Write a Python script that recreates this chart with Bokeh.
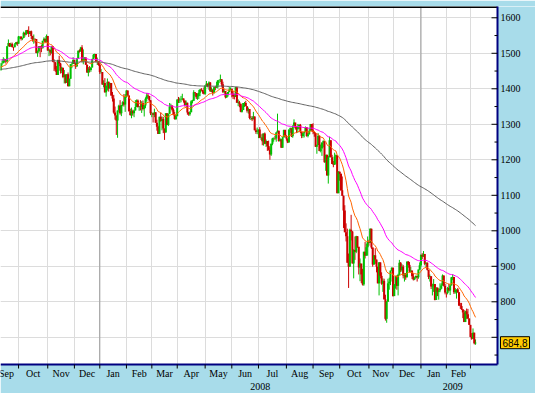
import pandas as pd
from bokeh.plotting import figure
from bokeh.models import (Range1d, FixedTicker, Grid, Span, Label, LabelSet,
                          BoxAnnotation, ColumnDataSource)
from bokeh.embed import file_html
from bokeh.resources import INLINE

# ---------------- data (daily index values, Sep 10 2007 .. Mar 6 2009) ----------------
first_open = 1454

closes = [
    1452, 1471, 1472, 1484, 1484, 1477, 1520, 1529, 1519, 1526, 1518, 1517, 1525, 1531, 1527,
    1547, 1547, 1540, 1543, 1558, 1553, 1565, 1562, 1554, 1562, 1549, 1539, 1541, 1540, 1501, 1506, 1520, 1516, 1514, 1535, 1541, 1531, 1549,
    1508, 1510, 1502, 1520, 1476, 1475, 1454, 1439, 1481, 1471, 1451, 1459, 1433, 1440, 1417, 1441, 1407, 1428, 1469, 1470, 1481,
    1472, 1463, 1485, 1507, 1505, 1516, 1478, 1487, 1488, 1468, 1446, 1455, 1453, 1460, 1484, 1496, 1498, 1476, 1478, 1468,
    1447, 1447, 1412, 1416, 1390, 1409, 1420, 1401, 1416, 1381, 1373, 1333, 1325, 1311, 1339, 1352, 1331, 1354, 1362, 1356, 1379,
    1395, 1381, 1337, 1326, 1337, 1331, 1339, 1349, 1367, 1349, 1350, 1349, 1360, 1343, 1353, 1372, 1381, 1380, 1368, 1331,
    1331, 1327, 1334, 1304, 1293, 1273, 1321, 1309, 1315, 1288, 1277, 1331, 1298, 1330, 1350, 1353, 1341, 1326, 1315, 1323,
    1370, 1368, 1369, 1370, 1373, 1366, 1354, 1361, 1333, 1328, 1334, 1365, 1366, 1390, 1388, 1376, 1380, 1389, 1398, 1396, 1391, 1386,
    1409, 1414, 1407, 1418, 1393, 1398, 1388, 1404, 1403, 1409, 1424, 1425, 1427, 1413, 1391, 1394, 1376, 1385, 1391, 1398, 1400,
    1386, 1378, 1377, 1404, 1361, 1362, 1358, 1335, 1340, 1360, 1360, 1351, 1338, 1343, 1318, 1318, 1314, 1322, 1283, 1278, 1280,
    1285, 1262, 1263, 1252, 1274, 1245, 1253, 1239, 1228, 1215, 1245, 1260, 1261, 1260, 1277, 1282, 1253, 1258, 1234, 1263, 1284, 1267,
    1260, 1249, 1285, 1289, 1266, 1296, 1305, 1290, 1286, 1293, 1298, 1279, 1267, 1275, 1278, 1292, 1267, 1272, 1282, 1301, 1283,
    1278, 1275, 1237, 1242, 1268, 1225, 1232, 1249, 1252, 1193, 1214, 1156, 1207, 1255, 1207, 1188, 1186, 1209, 1213, 1106, 1166,
    1161, 1114, 1099, 1057, 996, 985, 910, 899, 1003, 998, 908, 946, 941, 985, 955, 897, 908, 877, 849, 941, 930, 954, 969,
    966, 1006, 953, 905, 931, 919, 899, 852, 911, 873, 851, 859, 807, 752, 800, 852, 857, 888, 896,
    816, 849, 871, 845, 876, 910, 889, 899, 874, 880, 869, 913, 904, 885, 888, 872, 863, 868, 873, 869, 891, 903,
    932, 927, 935, 907, 910, 890, 870, 872, 843, 844, 850, 805, 840, 828, 832, 837, 846, 874, 845, 826,
    825, 839, 832, 846, 869, 870, 827, 834, 835, 827, 789, 788, 779, 770, 743, 773, 765, 753, 735,
    701, 696, 713, 683, 684.8,
]

highs = [
    1462, 1473, 1479, 1489, 1485, 1484, 1520, 1539, 1529, 1530, 1530, 1518, 1529, 1532, 1533,
    1549, 1548, 1547, 1544, 1561, 1558, 1565, 1566, 1576, 1563, 1564, 1549, 1553, 1541, 1540, 1508, 1520, 1520, 1524, 1535, 1545, 1541, 1553,
    1549, 1513, 1510, 1521, 1520, 1483, 1475, 1464, 1482, 1493, 1473, 1462, 1459, 1453, 1440, 1441, 1446, 1429, 1470, 1474, 1489,
    1482, 1472, 1487, 1508, 1511, 1518, 1523, 1511, 1489, 1488, 1468, 1461, 1464, 1461, 1485, 1498, 1499, 1498, 1488, 1478,
    1471, 1456, 1447, 1424, 1430, 1409, 1429, 1420, 1417, 1416, 1391, 1383, 1350, 1325, 1339, 1355, 1368, 1354, 1365, 1385, 1385,
    1396, 1395, 1381, 1344, 1347, 1341, 1341, 1368, 1370, 1370, 1350, 1368, 1365, 1367, 1354, 1376, 1388, 1388, 1380, 1368,
    1335, 1332, 1344, 1334, 1313, 1296, 1321, 1333, 1322, 1321, 1288, 1331, 1331, 1330, 1360, 1358, 1353, 1345, 1335, 1328,
    1370, 1377, 1375, 1380, 1386, 1373, 1368, 1367, 1361, 1335, 1337, 1368, 1369, 1396, 1390, 1388, 1387, 1397, 1399, 1402, 1397, 1404,
    1410, 1422, 1415, 1421, 1419, 1404, 1398, 1405, 1407, 1420, 1424, 1426, 1440, 1427, 1420, 1399, 1394, 1388, 1391, 1405, 1404,
    1400, 1394, 1386, 1405, 1404, 1370, 1366, 1358, 1353, 1360, 1363, 1366, 1351, 1347, 1343, 1323, 1323, 1335, 1322, 1288, 1291,
    1285, 1292, 1272, 1274, 1274, 1277, 1257, 1253, 1254, 1235, 1246, 1262, 1263, 1268, 1278, 1330, 1282, 1262, 1258, 1264, 1285, 1285,
    1270, 1260, 1285, 1291, 1289, 1297, 1314, 1304, 1294, 1301, 1301, 1301, 1279, 1277, 1279, 1294, 1292, 1276, 1289, 1301, 1301,
    1303, 1280, 1275, 1243, 1275, 1268, 1243, 1249, 1255, 1252, 1214, 1214, 1211, 1265, 1255, 1214, 1197, 1220, 1215, 1213, 1168,
    1167, 1161, 1153, 1099, 1072, 1021, 1006, 936, 1006, 1045, 999, 948, 984, 986, 985, 955, 922, 896, 893, 941, 969, 964, 984,
    975, 1007, 1006, 953, 931, 951, 919, 899, 912, 911, 883, 866, 865, 820, 802, 865, 868, 888, 897,
    896, 850, 873, 875, 879, 918, 912, 906, 904, 880, 880, 914, 915, 912, 898, 888, 880, 869, 874, 873, 891, 911,
    934, 937, 943, 935, 911, 911, 890, 877, 872, 851, 864, 850, 841, 840, 838, 852, 852, 877, 874, 851,
    826, 842, 851, 850, 870, 878, 869, 839, 835, 839, 827, 797, 797, 779, 777, 775, 781, 780, 753,
    735, 712, 725, 713, 694,
]

lows = [
    1439, 1451, 1465, 1472, 1474, 1471, 1476, 1520, 1518, 1519, 1516, 1507, 1517, 1525, 1521,
    1527, 1541, 1536, 1537, 1543, 1547, 1551, 1555, 1546, 1554, 1540, 1533, 1527, 1530, 1500, 1490, 1503, 1489, 1503, 1514, 1535, 1530, 1531,
    1507, 1492, 1494, 1499, 1475, 1450, 1448, 1439, 1439, 1464, 1443, 1444, 1430, 1415, 1415, 1417, 1407, 1407, 1428, 1458, 1470,
    1470, 1456, 1463, 1485, 1502, 1505, 1475, 1469, 1477, 1467, 1445, 1435, 1446, 1448, 1460, 1484, 1488, 1475, 1467, 1465,
    1442, 1443, 1411, 1404, 1389, 1378, 1395, 1392, 1401, 1380, 1364, 1330, 1313, 1270, 1262, 1334, 1327, 1323, 1351, 1350, 1335,
    1375, 1379, 1336, 1324, 1317, 1324, 1320, 1339, 1349, 1347, 1338, 1339, 1332, 1339, 1322, 1346, 1364, 1372, 1364, 1326,
    1320, 1305, 1320, 1304, 1282, 1273, 1273, 1307, 1283, 1275, 1256, 1277, 1298, 1295, 1330, 1344, 1336, 1325, 1313, 1312,
    1323, 1360, 1360, 1362, 1369, 1361, 1350, 1350, 1327, 1324, 1324, 1334, 1359, 1366, 1380, 1371, 1369, 1371, 1379, 1394, 1386, 1384,
    1383, 1406, 1404, 1397, 1391, 1391, 1381, 1386, 1396, 1403, 1401, 1416, 1419, 1406, 1388, 1387, 1373, 1374, 1378, 1390, 1396,
    1376, 1371, 1370, 1377, 1360, 1351, 1348, 1334, 1333, 1340, 1349, 1351, 1333, 1330, 1314, 1312, 1309, 1314, 1283, 1273, 1272,
    1261, 1261, 1256, 1241, 1240, 1244, 1236, 1225, 1226, 1200, 1211, 1241, 1251, 1256, 1251, 1277, 1251, 1251, 1234, 1234, 1263, 1266,
    1254, 1247, 1249, 1276, 1264, 1262, 1296, 1285, 1275, 1276, 1287, 1275, 1261, 1262, 1263, 1278, 1265, 1263, 1271, 1282, 1280,
    1272, 1265, 1236, 1217, 1242, 1224, 1221, 1211, 1235, 1192, 1169, 1156, 1133, 1207, 1207, 1188, 1179, 1186, 1188, 1106, 1106,
    1141, 1112, 1098, 1008, 996, 970, 910, 839, 899, 973, 908, 866, 918, 937, 952, 877, 858, 853, 846, 845, 922, 930, 930,
    958, 966, 949, 899, 905, 907, 883, 852, 818, 866, 848, 828, 806, 747, 741, 801, 834, 847, 886,
    815, 817, 837, 834, 818, 876, 884, 885, 866, 857, 862, 869, 896, 883, 882, 864, 860, 861, 866, 857, 865, 889,
    899, 920, 927, 903, 897, 888, 864, 857, 836, 818, 828, 804, 805, 816, 806, 827, 835, 846, 843, 821,
    812, 821, 829, 819, 846, 861, 822, 823, 809, 825, 789, 780, 777, 754, 743, 743, 752, 751, 735,
    700, 693, 696, 680, 679,
]

holidays = ["2007-09-03", "2007-11-22", "2007-12-25", "2008-01-01", "2008-01-21", "2008-02-18",
            "2008-03-21", "2008-05-26", "2008-07-04", "2008-09-01", "2008-11-27", "2008-12-25",
            "2009-01-01", "2009-01-19", "2009-02-16"]
first_day, last_day = "2007-09-10", "2009-03-06"
month_names = ["Jan", "Feb", "Mar", "Apr", "May", "Jun", "Jul", "Aug", "Sep", "Oct", "Nov", "Dec"]
price_ticks = [700, 800, 900, 1000, 1100, 1200, 1300, 1400, 1500, 1600]
price_minor = [650, 750, 850, 950, 1050, 1150, 1250, 1350, 1450, 1550]
price_labels = ["", "800", "900", "1000", "1100", "1200", "1300", "1400", "1500", "1600"]
ema_periods = [20, 50, 200]
ema_seeds = [1460, 1482, 1455]      # indicator values read at the left edge
ema_colors = ["#FF6600", "#FF00FF", "#606060"]
last_text = "684,8"

# ---------------- derived ----------------
n = len(closes)
dates = pd.bdate_range(first_day, last_day, freq="C", holidays=holidays)[:n]
xs = list(range(n))
opens = [first_open] + closes[:-1]
up = [c >= o for o, c in zip(opens, closes)]
GREEN, RED = "#00C000", "#CC0000"

src = ColumnDataSource(dict(
    x=xs, high=highs, low=lows,
    top=[max(o, c) for o, c in zip(opens, closes)],
    bottom=[min(o, c) for o, c in zip(opens, closes)],
    color=[GREEN if u else RED for u in up],
))

def ema(values, period, seed):
    a = 2.0 / (period + 1)
    out, e = [seed], seed
    for v in values[1:]:
        e = e + a * (v - e)
        out.append(e)
    return out

# month starts (index of first trading day of each month)
n_before = len(pd.bdate_range("2007-09-01", "2007-09-09", freq="C", holidays=holidays))
starts = [(-n_before, dates[0].year, dates[0].month)]
for i in range(1, n):
    if dates[i].month != dates[i - 1].month:
        starts.append((i, dates[i].year, dates[i].month))
bounds = [s[0] for s in starts[1:]]
mids, mnames = [], []
for (a, y, m), (b, _, _) in zip(starts[:-1], starts[1:]):
    mids.append((a + b) / 2.0)
    mnames.append(month_names[m - 1])
year_starts = [s[0] for s in starts if s[2] == 1]
yr_pos = [(year_starts[0] + year_starts[1]) / 2.0, (year_starts[1] + (n - 1) + 7) / 2.0]
yr_names = [str(starts[0][1] + 1), str(starts[0][1] + 2)]

# ---------------- geometry ----------------
W, H = 535, 393
TOP = 6                           # blue strip above the chart (px)
AXIS_W = 38                       # right price-scale strip (px)
BOT_H = 29                        # bottom date-scale strip (px)
PLOT_W = W - AXIS_W
PLOT_H = H - TOP - BOT_H
X0, X1 = 0.78, 392.3              # visible index range of the chart area
Y0, Y1 = 623.4, 1631.8            # visible price range of the chart area
ux = (X1 - X0) / PLOT_W           # index units per pixel
uy = (Y1 - Y0) / PLOT_H           # price units per pixel
X_END = X1 + AXIS_W * ux
Y_BOT = Y0 - BOT_H * uy
BLUE = "#A8DCEA"
NAVY = "#000080"

p = figure(width=W, height=H, x_range=Range1d(X0, X_END), y_range=Range1d(Y_BOT, Y1),
           output_backend="svg", toolbar_location=None,
           x_axis_location=None, y_axis_location=None,
           min_border_left=0, min_border_right=0, min_border_top=TOP, min_border_bottom=0)
p.background_fill_color = "white"
p.border_fill_color = BLUE
p.outline_line_color = None
p.grid.visible = False

# grid + year separators (underlay)
p.add_layout(Grid(dimension=0, ticker=FixedTicker(ticks=bounds), grid_line_color="#DCDCDC"))
p.add_layout(Grid(dimension=1, ticker=FixedTicker(ticks=price_ticks), grid_line_color="#DCDCDC"))
for ys in year_starts:
    p.add_layout(Span(location=ys, dimension="height", line_color="#9A9A9A", line_width=1, level="underlay"))
# blue scale strips (underlay, drawn over the grid)
p.add_layout(BoxAnnotation(left=X1, fill_color=BLUE, fill_alpha=1.0, line_color=None, level="underlay"))
p.add_layout(BoxAnnotation(top=Y0, fill_color=BLUE, fill_alpha=1.0, line_color=None, level="underlay"))

# candles
p.segment(x0="x", y0="low", x1="x", y1="high", line_color="color", line_width=1, source=src)
p.vbar(x="x", width=1.6, top="top", bottom="bottom", fill_color="color", line_color=None, source=src)

# moving averages
for per, seed, col in zip(ema_periods, ema_seeds, ema_colors):
    p.line(xs, ema(closes, per, seed), line_color=col, line_width=1)

# scale lines and tick marks
p.segment(x0=[X0], y0=[Y1], x1=[X1], y1=[Y1], line_color="black", line_width=3)
p.segment(x0=[X0], y0=[Y0], x1=[X1], y1=[Y0], line_color=NAVY, line_width=2)
p.segment(x0=[X1], y0=[Y0], x1=[X1], y1=[Y1 + TOP * uy], line_color=NAVY, line_width=2)
p.segment(x0=[X1 - 6 * ux] * len(price_ticks), y0=price_ticks, x1=[X1] * len(price_ticks), y1=price_ticks,
          line_color="black", line_width=1)
p.segment(x0=[X1 - 3 * ux] * len(price_minor), y0=price_minor, x1=[X1] * len(price_minor), y1=price_minor,
          line_color="black", line_width=1)
p.segment(x0=bounds, y0=[Y0] * len(bounds), x1=bounds, y1=[Y0 - 4 * uy] * len(bounds),
          line_color="black", line_width=1)

# price labels
p.add_layout(LabelSet(x="x", y="y", text="t", x_offset=3,
                      source=ColumnDataSource(dict(x=[X1] * len(price_ticks), y=price_ticks, t=price_labels)),
                      text_align="left", text_baseline="middle",
                      text_font="Liberation Sans", text_font_size="10px", text_color="black"))
# month labels
p.add_layout(LabelSet(x="x", y="y", text="t",
                      source=ColumnDataSource(dict(x=mids, y=[Y0 - 8.5 * uy] * len(mids), t=mnames)),
                      text_align="center", text_baseline="middle",
                      text_font="DejaVu Sans", text_font_size="10px", text_color="black"))
# year labels
p.add_layout(LabelSet(x="x", y="y", text="t",
                      source=ColumnDataSource(dict(x=yr_pos, y=[Y0 - 22 * uy] * len(yr_pos), t=yr_names)),
                      text_align="center", text_baseline="middle",
                      text_font="Liberation Sans", text_font_size="10px", text_color="black"))
# last price box
p.add_layout(Label(x=X1, y=closes[-1], x_offset=3, text=last_text,
                   text_align="left", text_baseline="middle",
                   text_font="Liberation Sans", text_font_size="10px", text_color="black",
                   background_fill_color="#FFCC00", border_line_color="black",
                   border_line_width=1, padding=2))

open("out.html", "w").write(file_html(p, INLINE))
